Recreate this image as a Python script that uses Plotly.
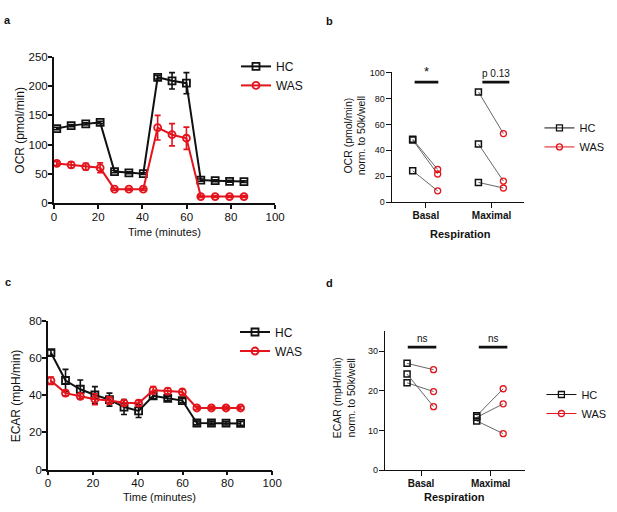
import plotly.graph_objects as go

W, H = 617, 512
RED = "#e3141c"
BLACK = "#111111"
GREY = "#555555"
FONT = "Liberation Sans, Arial, sans-serif"

# panels a and c: measurement times (minutes)
time_min = [1.3, 7.8, 14.4, 20.9, 27.4, 33.9, 40.4, 46.9, 53.4, 59.9, 66.4, 72.9, 79.4, 85.9]

# panel a: OCR (pmol/min), mean and error
ocr_hc = [127.5, 132.5, 135.5, 138, 54, 52, 50.5, 215, 209, 205, 39.5, 38.5, 37.5, 37]
ocr_hc_err = [2, 2, 2, 2, 2, 1.5, 1.5, 3, 14, 18, 2, 1.5, 1.5, 1.5]
ocr_was = [68, 65.5, 62.5, 60.5, 24, 24, 24, 129, 117, 111, 11.5, 11.5, 11.5, 11.5]
ocr_was_err = [3, 5, 5.5, 8.5, 1.5, 1.5, 1.5, 21, 19, 19, 1.5, 1.5, 1.5, 1.5]

# panel c: ECAR (mpH/min), mean and error
ecar_hc = [63, 48, 43.3, 40.2, 37.7, 33.7, 31.6, 39.8, 38.4, 37.2, 25.1, 25.1, 25.0, 24.9]
ecar_hc_err = [1.5, 6, 5, 4.5, 3.5, 4, 3.5, 1.5, 1.2, 1.2, 1, 1, 1, 1]
ecar_was = [47.9, 41.2, 39.5, 37.9, 37.2, 36, 35.8, 42.8, 42.3, 41.8, 33.2, 33.2, 33.2, 33.2]
ecar_was_err = [2, 1.5, 1.5, 3, 2, 1.5, 1.5, 2, 1.5, 1.5, 0.8, 0.8, 0.8, 0.8]

# panels b and d: paired donors, normalised to 50k cells/well
resp_cats = ["Basal", "Maximal"]
ocr_basal_hc = [48.6, 48.0, 24.3]
ocr_basal_was = [25.3, 21.8, 8.8]
ocr_max_hc = [85.0, 44.9, 15.3]
ocr_max_was = [52.9, 16.3, 11.0]
ecar_basal_hc = [26.9, 24.2, 22.0]
ecar_basal_was = [25.3, 16.0, 19.8]
ecar_max_hc = [13.7, 13.3, 12.4]
ecar_max_was = [20.5, 16.7, 9.2]

ocr_sig_text = ["*", "p 0.13"]
ocr_sig_y = 92.5
ecar_sig_text = ["ns", "ns"]
ecar_sig_y = 31

OFF_HC, OFF_WAS = -0.2, 0.18   # dot offsets around each category


def px_x(p):
    return p / W


def px_y(p):
    return 1 - p / H


fig = go.Figure()


def time_traces(xa, ya, hc, hc_err, was, was_err, legend):
    for name, vals, err, col, sym in [("HC", hc, hc_err, BLACK, "square-open"),
                                      ("WAS", was, was_err, RED, "circle-open")]:
        fig.add_trace(go.Scatter(
            x=time_min, y=vals, name=name, xaxis=xa, yaxis=ya,
            mode="lines+markers", legend=legend, cliponaxis=False,
            line=dict(color=col, width=2),
            marker=dict(symbol=sym, size=7, color=col, line=dict(width=1.8, color=col)),
            error_y=dict(type="data", array=err, color=col, thickness=1.6, width=3),
        ))


def paired_traces(xa, ya, basal_hc, basal_was, max_hc, max_was, sig_text, sig_y, sig_spans, legend):
    pairs = [(0, basal_hc, basal_was), (1, max_hc, max_was)]
    lx, ly = [], []
    for c, hc, was in pairs:
        for h, w in zip(hc, was):
            lx += [c + OFF_HC, c + OFF_WAS, None]
            ly += [h, w, None]
    fig.add_trace(go.Scatter(x=lx, y=ly, mode="lines", xaxis=xa, yaxis=ya, showlegend=False,
                             line=dict(color=GREY, width=0.9), hoverinfo="skip"))
    hx = [c + OFF_HC for c, hc, _ in pairs for _ in hc]
    hy = [v for _, hc, _ in pairs for v in hc]
    wx = [c + OFF_WAS for c, _, was in pairs for _ in was]
    wy = [v for _, _, was in pairs for v in was]
    fig.add_trace(go.Scatter(x=hx, y=hy, mode="markers", xaxis=xa, yaxis=ya, showlegend=False,
                             cliponaxis=False,
                             marker=dict(symbol="square-open", size=6, color=BLACK, line=dict(width=1.5))))
    fig.add_trace(go.Scatter(x=wx, y=wy, mode="markers", xaxis=xa, yaxis=ya, showlegend=False,
                             cliponaxis=False,
                             marker=dict(symbol="circle-open", size=6, color=RED, line=dict(width=1.3))))
    # legend entries
    for name, col, sym in [("HC", BLACK, "square-open"), ("WAS", RED, "circle-open")]:
        fig.add_trace(go.Scatter(x=[None], y=[None], name=name, mode="lines+markers",
                                 xaxis=xa, yaxis=ya, legend=legend,
                                 line=dict(color=col, width=1),
                                 marker=dict(symbol=sym, size=6, color=col, line=dict(width=1.3))))
    # significance bars
    sx, sy = [], []
    for c, (a, b) in enumerate(sig_spans):
        sx += [c + a, c + b, None]
        sy += [sig_y, sig_y, None]
    fig.add_trace(go.Scatter(x=sx, y=sy, mode="lines", xaxis=xa, yaxis=ya, showlegend=False,
                             line=dict(color=BLACK, width=2.6), hoverinfo="skip"))
    for c, ((a, b), t) in enumerate(zip(sig_spans, sig_text)):
        fig.add_annotation(x=c + (a + b) / 2, y=sig_y, xref=xa, yref=ya, text=t, showarrow=False,
                           yanchor="bottom", yshift=1,
                           font=dict(size=13 if t == "*" else 10, color=BLACK))


time_traces("x", "y", ocr_hc, ocr_hc_err, ocr_was, ocr_was_err, "legend")
paired_traces("x2", "y2", ocr_basal_hc, ocr_basal_was, ocr_max_hc, ocr_max_was,
              ocr_sig_text, ocr_sig_y, [(-0.17, 0.19), (-0.14, 0.27)], "legend2")
time_traces("x3", "y3", ecar_hc, ecar_hc_err, ecar_was, ecar_was_err, "legend3")
paired_traces("x4", "y4", ecar_basal_hc, ecar_basal_was, ecar_max_hc, ecar_max_was,
              ecar_sig_text, ecar_sig_y, [(-0.19, 0.22), (-0.17, 0.24)], "legend4")

big_axis = dict(showline=True, linecolor=BLACK, linewidth=1.8, ticks="outside", ticklen=4,
                tickwidth=1.6, tickcolor=BLACK, showgrid=False, zeroline=False,
                ticklabelstandoff=-2, tickfont=dict(size=11.5, color=BLACK))
small_axis = dict(showline=True, linecolor=BLACK, linewidth=1.1, ticks="outside", ticklen=5,
                  tickwidth=1.1, tickcolor=BLACK, showgrid=False, zeroline=False,
                  ticklabelstandoff=-1, tickfont=dict(size=9, color=BLACK))
cat_font = dict(size=10, color=BLACK)

fig.update_layout(
    width=W, height=H, margin=dict(l=0, r=0, t=0, b=0),
    paper_bgcolor="white", plot_bgcolor="white",
    font=dict(family=FONT, color=BLACK),
    xaxis=dict(big_axis, domain=[px_x(52), px_x(278)], range=[0, 100], dtick=20, anchor="y"),
    yaxis=dict(big_axis, domain=[px_y(202), px_y(52)], range=[0, 250], dtick=50, anchor="x"),
    xaxis2=dict(small_axis, domain=[px_x(397), px_x(532)], range=[-0.52, 1.49], anchor="y2",
                tickvals=[0, 1], ticktext=["<b>%s</b>" % c for c in resp_cats], tickfont=cat_font),
    yaxis2=dict(small_axis, domain=[px_y(201), px_y(68)], range=[0, 100], dtick=20, anchor="x2"),
    xaxis3=dict(big_axis, domain=[px_x(46), px_x(275)], range=[0, 100], dtick=20, anchor="y3"),
    yaxis3=dict(big_axis, domain=[px_y(474.7), px_y(322.7)], range=[0, 80], dtick=20, anchor="x3"),
    xaxis4=dict(small_axis, domain=[px_x(390), px_x(533)], range=[-0.52, 1.49], anchor="y4",
                tickvals=[0, 1], ticktext=["<b>%s</b>" % c for c in resp_cats], tickfont=cat_font),
    yaxis4=dict(small_axis, domain=[px_y(475.3), px_y(333)], range=[0, 35],
                tickvals=[0, 10, 20, 30], anchor="x4"),
    legend=dict(x=px_x(238), y=px_y(47), xanchor="left", yanchor="top", font=dict(size=12)),
    legend2=dict(x=px_x(548), y=px_y(110), xanchor="left", yanchor="top", font=dict(size=11)),
    legend3=dict(x=px_x(237), y=px_y(319), xanchor="left", yanchor="top", font=dict(size=12)),
    legend4=dict(x=px_x(550), y=px_y(383), xanchor="left", yanchor="top", font=dict(size=11)),
)

# axis titles and panel letters
labels = [
    (17, 127, "OCR (pmol/min)", -90, 12),
    (165, 231, "Time (minutes)", 0, 11),
    (359, 133, "OCR (pmol/min)<br>norm. to 50k/well", -90, 10.5),
    (467, 233, "<b>Respiration</b>", 0, 11),
    (13, 399, "ECAR (mpH/min)", -90, 12),
    (160, 503, "Time (minutes)", 0, 11),
    (348, 401, "ECAR (mpH/min)<br>norm. to 50k/well", -90, 10.5),
    (461, 503, "<b>Respiration</b>", 0, 11),
    (5, 14, "<b>a</b>", 0, 11),
    (334, 15, "<b>b</b>", 0, 11),
    (5, 283, "<b>c</b>", 0, 11),
    (334, 284, "<b>d</b>", 0, 11),
]
for x, y, t, ang, sz in labels:
    fig.add_annotation(x=px_x(x), y=px_y(y), xref="paper", yref="paper", text=t,
                       textangle=ang, showarrow=False, xanchor="center", yanchor="middle",
                       font=dict(size=sz, color=BLACK))

# body margin would push the fixed-size figure partly out of the window
fig.write_html("out.html", config={"displayModeBar": False},
               post_script="document.body.style.margin='0';document.body.style.overflow='hidden';")
